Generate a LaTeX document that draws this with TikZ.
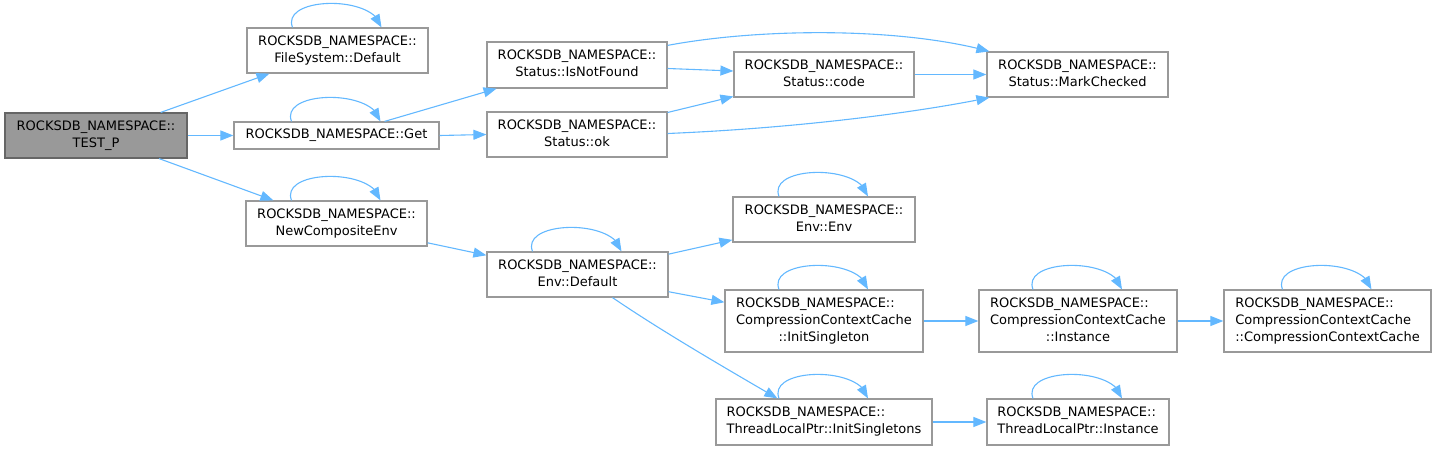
\documentclass[tikz,border=0pt]{standalone}
\usepackage{fontspec}
\setmainfont{DejaVu Sans}
\usetikzlibrary{arrows.meta,calc,bending}
\definecolor{edgeblue}{HTML}{63B8FF}
\definecolor{boxgray}{HTML}{999999}
\definecolor{rootfill}{HTML}{999999}
\definecolor{rootborder}{HTML}{666666}
\newcommand{\RN}{ROCKSDB\_NAMESPACE::}
\newcommand{\lbltwo}[2]{\begin{tabular}{@{}l@{}}#1\\\multicolumn{1}{@{}c@{}}{#2}\end{tabular}}
\newcommand{\lblthree}[3]{\begin{tabular}{@{}l@{}}#1\\#2\\\multicolumn{1}{@{}c@{}}{#3}\end{tabular}}
\newcommand{\selfloop}[1]{\draw[edge] ($(#1.north)+(-45,0)$) .. controls +(-12,-31) and +(-6,-33) .. ($(#1.north)+(44,0)$);}
\begin{document}
\begin{tikzpicture}[x=1pt,y=-1pt,
  box/.style={draw=boxgray, fill=white, line width=1.2pt, inner sep=0pt,
    font=\fontsize{13}{16.8}\selectfont, text=black},
  rootbox/.style={box, draw=rootborder, fill=rootfill},
  edge/.style={draw=edgeblue, line width=1.1pt, -{Triangle[length=13pt,width=10pt,flex]}}]
\useasboundingbox (0,0) rectangle (1436,450);

\node[rootbox, minimum width=182pt, minimum height=45pt] (test) at (96,135.5) {\lbltwo{\RN}{TEST\_P}};
\node[box, minimum width=181pt, minimum height=45pt] (fs) at (337.5,50.5) {\lbltwo{\RN}{FileSystem::Default}};
\node[box, minimum width=205pt, minimum height=27pt] (get) at (336.5,135.5) {ROCKSDB\_NAMESPACE::Get};
\node[box, minimum width=181pt, minimum height=45pt] (nce) at (336.5,223.5) {\lbltwo{\RN}{NewCompositeEnv}};
\node[box, minimum width=180pt, minimum height=46pt] (inf) at (577,65) {\lbltwo{\RN}{Status::IsNotFound}};
\node[box, minimum width=180pt, minimum height=45pt] (ok) at (577,134.5) {\lbltwo{\RN}{Status::ok}};
\node[box, minimum width=180pt, minimum height=45pt] (code) at (824,74.5) {\lbltwo{\RN}{Status::code}};
\node[box, minimum width=181pt, minimum height=45pt] (mc) at (1077.5,74.5) {\lbltwo{\RN}{Status::MarkChecked}};
\node[box, minimum width=182pt, minimum height=45pt] (envenv) at (824,219.5) {\lbltwo{\RN}{Env::Env}};
\node[box, minimum width=181pt, minimum height=45pt] (envdef) at (577.5,274.5) {\lbltwo{\RN}{Env::Default}};
\node[box, minimum width=198pt, minimum height=62pt] (is) at (824,321) {\lblthree{\RN}{CompressionContextCache}{::InitSingleton}};
\node[box, minimum width=198pt, minimum height=62pt] (inst) at (1078,321) {\lblthree{\RN}{CompressionContextCache}{::Instance}};
\node[box, minimum width=207pt, minimum height=62pt] (ccc) at (1327.5,321) {\lblthree{\RN}{CompressionContextCache}{::CompressionContextCache}};
\node[box, minimum width=216pt, minimum height=46pt] (iss) at (824,422) {\lbltwo{\RN}{ThreadLocalPtr::InitSingletons}};
\node[box, minimum width=182pt, minimum height=46pt] (tlp) at (1078,422) {\lbltwo{\RN}{ThreadLocalPtr::Instance}};

\draw[edge] (test) -- ($(fs.south)+(-68,0)$);
\draw[edge] (test) -- (get);
\draw[edge] (test) -- (nce);
\draw[edge] (get) -- (inf);
\draw[edge] (get.east) -- (ok.west);
\draw[edge] (inf) -- (code);
\draw[edge] (ok) -- (code);
\draw[edge] (code) -- (mc);
\draw[edge] ($(inf.north east)+(0,4)$) .. controls (760,28) and (900,27) .. ($(mc.north west)+(3,0)$);
\draw[edge] ($(ok.east)+(0,-1)$) .. controls (800,128) and (920,112) .. ($(mc.south west)+(3,0)$);
\draw[edge] (nce) -- (envdef);
\draw[edge] (envdef) -- (envenv);
\draw[edge] (envdef) -- (is);
\draw[edge] ($(envdef.south)+(35,0)$) .. controls (660,330) and (720,365) .. ($(iss.north west)+(62,0)$);
\draw[edge] (is) -- (inst);
\draw[edge] (inst) -- (ccc);
\draw[edge] (iss) -- (tlp);

\selfloop{fs}
\selfloop{get}
\selfloop{nce}
\selfloop{envdef}
\selfloop{envenv}
\selfloop{is}
\selfloop{iss}
\selfloop{inst}
\selfloop{ccc}
\selfloop{tlp}
\end{tikzpicture}
\end{document}
